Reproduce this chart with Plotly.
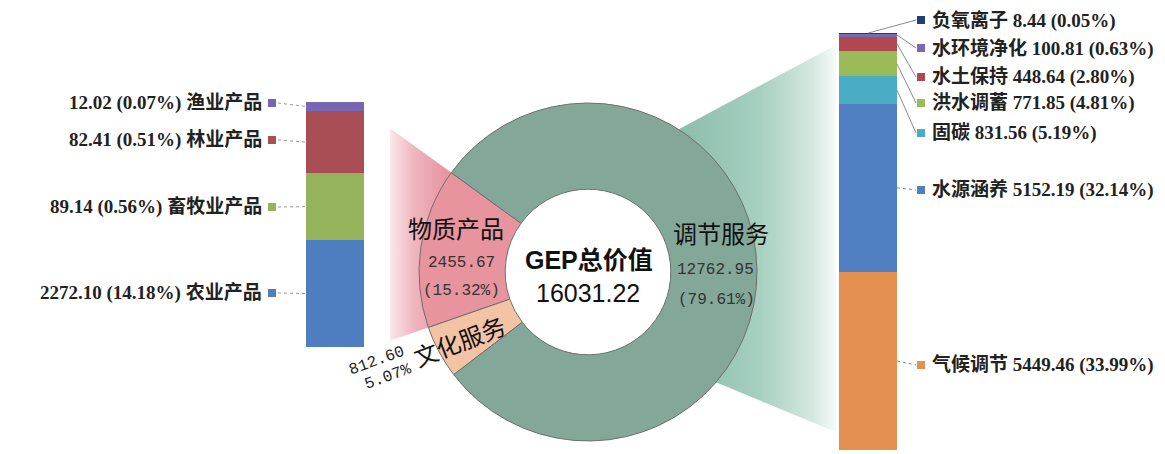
import math
import plotly.graph_objects as go

# ---------------- data ----------------
gep_total = 16031.22
main_labels = ['物质产品', '文化服务', '调节服务']
main_values = [2455.67, 812.60, 12762.95]
main_pcts = ['15.32%', '5.07%', '79.61%']

# stacked bottom -> top
material_labels = ['农业产品', '畜牧业产品', '林业产品', '渔业产品']
material_values = [2272.10, 89.14, 82.41, 12.02]
material_pcts = ['14.18%', '0.56%', '0.51%', '0.07%']

regulating_labels = ['气候调节', '水源涵养', '固碳', '洪水调蓄', '水土保持', '水环境净化', '负氧离子']
regulating_values = [5449.46, 5152.19, 831.56, 771.85, 448.64, 100.81, 8.44]
regulating_pcts = ['33.99%', '32.14%', '5.19%', '4.81%', '2.80%', '0.63%', '0.05%']

# ---------------- styles / layout constants ----------------
W, H = 1165, 454
main_colors = ['#E8949E', '#F3C3A6', '#83A899']
material_colors = ['#4F7EC0', '#95B35A', '#A94E55', '#7766B4']
regulating_colors = ['#E39050', '#4F7FC0', '#4BACC6', '#9BBB59', '#B0484F', '#7B68B0', '#1F3F7A']

PIE_CX, PIE_CY, PIE_R = 588, 272, 169
HOLE = 0.49
PIE_START = 144  # degrees (math convention) where first slice begins (counterclockwise)

LBAR = dict(x0=306, x1=364, top=102, bottom=347)
LBAR_FLOOR = 2130  # broken axis: lower bound of visible range
RBAR = dict(x0=839, x1=897, top=33, bottom=450)

left_label_y = [293, 207, 140, 103]
left_label_right = 264
right_label_y = [365, 190, 133, 103, 77, 48, 20]
right_label_left = 930

LABEL_FONT = dict(family='Liberation Serif, Noto Sans CJK SC', size=19, color='#222')
CJK_FONT = 'Noto Sans CJK SC, Liberation Sans'
MONO_FONT = 'Liberation Mono, Noto Sans CJK SC'


def px(x):
    return x / W


def py(y):
    return 1 - y / H


fig = go.Figure()

# ---------- connector wedges (decorative, overlay pixel axis) ----------
mat_share = main_values[0] / sum(main_values)
a0 = math.radians(PIE_START)
a1 = math.radians(PIE_START + 360 * mat_share)
cut_x = 390
rr = PIE_R - 2


def ray_to_x(a, xcut):
    t = (xcut - PIE_CX) / math.cos(a)
    return xcut, PIE_CY - t * math.sin(a)


pt_top = ray_to_x(a0, cut_x)
pt_bot = ray_to_x(a1, cut_x)
arc_n = 24
arc = [(PIE_CX + rr * math.cos(a1 + (a0 - a1) * k / arc_n),
        PIE_CY - rr * math.sin(a1 + (a0 - a1) * k / arc_n)) for k in range(arc_n + 1)]
poly = [pt_top, pt_bot] + arc + [pt_top]
fig.add_trace(go.Scatter(
    x=[p[0] for p in poly], y=[p[1] for p in poly], mode='lines', fill='toself',
    line=dict(width=0), hoverinfo='skip', showlegend=False, xaxis='x', yaxis='y',
    fillgradient=dict(type='horizontal', start=cut_x, stop=445,
                      colorscale=[[0, 'rgb(250,232,235)'], [0.45, 'rgb(239,180,189)'],
                                  [1, 'rgb(232,150,162)']])))

# teal wedge toward regulating bar
t_up, t_lo = math.radians(58), math.radians(-41)
t_end_x, t_end_top, t_end_bot = 836, 45, 432
arc2 = [(PIE_CX + rr * math.cos(t_lo + (t_up - t_lo) * k / arc_n),
         PIE_CY - rr * math.sin(t_lo + (t_up - t_lo) * k / arc_n)) for k in range(arc_n + 1)]
poly2 = [(t_end_x, t_end_top), (t_end_x, t_end_bot)] + arc2 + [(t_end_x, t_end_top)]
fig.add_trace(go.Scatter(
    x=[p[0] for p in poly2], y=[p[1] for p in poly2], mode='lines', fill='toself',
    line=dict(width=0), hoverinfo='skip', showlegend=False, xaxis='x', yaxis='y',
    fillgradient=dict(type='horizontal', start=680, stop=t_end_x,
                      colorscale=[[0, 'rgb(140,189,172)'], [0.5, 'rgb(166,207,192)'],
                                  [0.85, 'rgb(212,232,224)'], [1, 'rgb(246,251,249)']])))

# ---------- stacked bars ----------
for name, v, c in zip(material_labels, material_values, material_colors):
    fig.add_trace(go.Bar(x=['物质产品'], y=[v], name=name, marker=dict(color=c, line=dict(width=0)),
                         xaxis='x2', yaxis='y2', showlegend=False))
for name, v, c in zip(regulating_labels, regulating_values, regulating_colors):
    fig.add_trace(go.Bar(x=['调节服务'], y=[v], name=name, marker=dict(color=c, line=dict(width=0)),
                         xaxis='x3', yaxis='y3', showlegend=False))

# ---------- donut ----------
# plotly (counterclockwise): first slice occupies clockwise angles [rotation, rotation + slice]
pie_rotation = 90 - PIE_START - 360 * mat_share
fig.add_trace(go.Pie(
    labels=main_labels, values=main_values, hole=HOLE, sort=False,
    direction='counterclockwise', rotation=pie_rotation,
    marker=dict(colors=main_colors, line=dict(color='#6f6f6f', width=1)),
    textinfo='none', showlegend=False,
    domain=dict(x=[px(PIE_CX - PIE_R), px(PIE_CX + PIE_R)],
                y=[py(PIE_CY + PIE_R), py(PIE_CY - PIE_R)])))

# ---------- labels & leader lines ----------
annotations = []
shapes = []

l_total = sum(material_values)
cum = 0
for i, (name, v, p, c) in enumerate(zip(material_labels, material_values, material_pcts, material_colors)):
    lo, hi = cum, cum + v
    cum = hi
    mid = (max(lo, LBAR_FLOOR) + hi) / 2
    ay = LBAR['bottom'] - (mid - LBAR_FLOOR) / (l_total - LBAR_FLOOR) * (LBAR['bottom'] - LBAR['top'])
    ly = left_label_y[i]
    annotations.append(dict(x=px(left_label_right), y=py(ly), xref='paper', yref='paper',
                            xanchor='right', yanchor='middle', showarrow=False,
                            text=f'<b>{v:.2f} ({p}) {name}</b>', font=LABEL_FONT))
    shapes.append(dict(type='rect', xref='paper', yref='paper', x0=px(268), x1=px(276),
                       y0=py(ly + 4), y1=py(ly - 4), fillcolor=c, line=dict(width=0)))
    shapes.append(dict(type='line', xref='paper', yref='paper', x0=px(278), y0=py(ly),
                       x1=px(LBAR['x0']), y1=py(ay), line=dict(color='#9a9a9a', width=1, dash='dot')))

r_total = sum(regulating_values)
cum = 0
for i, (name, v, p, c) in enumerate(zip(regulating_labels, regulating_values, regulating_pcts, regulating_colors)):
    lo, hi = cum, cum + v
    cum = hi
    mid = (lo + hi) / 2
    ay = RBAR['bottom'] - mid / r_total * (RBAR['bottom'] - RBAR['top'])
    ly = right_label_y[i]
    annotations.append(dict(x=px(right_label_left), y=py(ly), xref='paper', yref='paper',
                            xanchor='left', yanchor='middle', showarrow=False,
                            text=f'<b>{name} {v:.2f} ({p})</b>', font=LABEL_FONT))
    shapes.append(dict(type='rect', xref='paper', yref='paper', x0=px(917), x1=px(925),
                       y0=py(ly + 4), y1=py(ly - 4), fillcolor=c, line=dict(width=0)))
    x_start = RBAR['x1'] if i < len(regulating_values) - 1 else (RBAR['x0'] + RBAR['x1']) / 2
    shapes.append(dict(type='line', xref='paper', yref='paper', x0=px(x_start), y0=py(ay),
                       x1=px(916), y1=py(ly),
                       line=dict(color='#8a8a8a', width=1,
                                 dash='solid' if abs(ly - ay) > 8 else 'dot')))

# centre + slice texts
def ann(x, y, text, size, family, color='#111', angle=0):
    annotations.append(dict(x=px(x), y=py(y), xref='paper', yref='paper', xanchor='center',
                            yanchor='middle', showarrow=False, text=text, textangle=angle,
                            font=dict(size=size, family=family, color=color)))


ann(589, 260, '<b>GEP总价值</b>', 25, 'Liberation Sans, Noto Sans CJK SC')
ann(588, 293, f'{gep_total:.2f}', 25, 'Liberation Sans, Noto Sans CJK SC')

ann(456, 227, main_labels[0], 24, CJK_FONT)
ann(461, 263, f'{main_values[0]:.2f}', 16, MONO_FONT, '#333')
ann(461, 291, f'({main_pcts[0]})', 16, MONO_FONT, '#333')

ann(721, 232, main_labels[2], 24, CJK_FONT)
ann(715, 270, f'{main_values[2]:.2f}', 16, MONO_FONT, '#333')
ann(716, 300, f'({main_pcts[2]})', 16, MONO_FONT, '#333')

ann(459, 340, main_labels[1], 24, CJK_FONT, angle=-21)
ann(377, 361, f'{main_values[1]:.2f}', 16, MONO_FONT, '#222', angle=-20)
ann(388, 377, main_pcts[1], 16, MONO_FONT, '#222', angle=-20)

hidden = dict(visible=False, showgrid=False, zeroline=False, fixedrange=True)
fig.update_layout(
    width=W, height=H, margin=dict(l=0, r=0, t=0, b=0),
    paper_bgcolor='white', plot_bgcolor='rgba(0,0,0,0)',
    barmode='stack', bargap=0, showlegend=False,
    xaxis=dict(domain=[0, 1], range=[0, W], anchor='y', **hidden),
    yaxis=dict(domain=[0, 1], range=[H, 0], anchor='x', **hidden),
    xaxis2=dict(domain=[px(LBAR['x0']), px(LBAR['x1'])], range=[-0.5, 0.5], anchor='y2', **hidden),
    yaxis2=dict(domain=[py(LBAR['bottom']), py(LBAR['top'])], range=[LBAR_FLOOR, l_total], anchor='x2', **hidden),
    xaxis3=dict(domain=[px(RBAR['x0']), px(RBAR['x1'])], range=[-0.5, 0.5], anchor='y3', **hidden),
    yaxis3=dict(domain=[py(RBAR['bottom']), py(RBAR['top'])], range=[0, r_total], anchor='x3', **hidden),
    annotations=annotations, shapes=shapes,
)

fig.write_html('out.html')
